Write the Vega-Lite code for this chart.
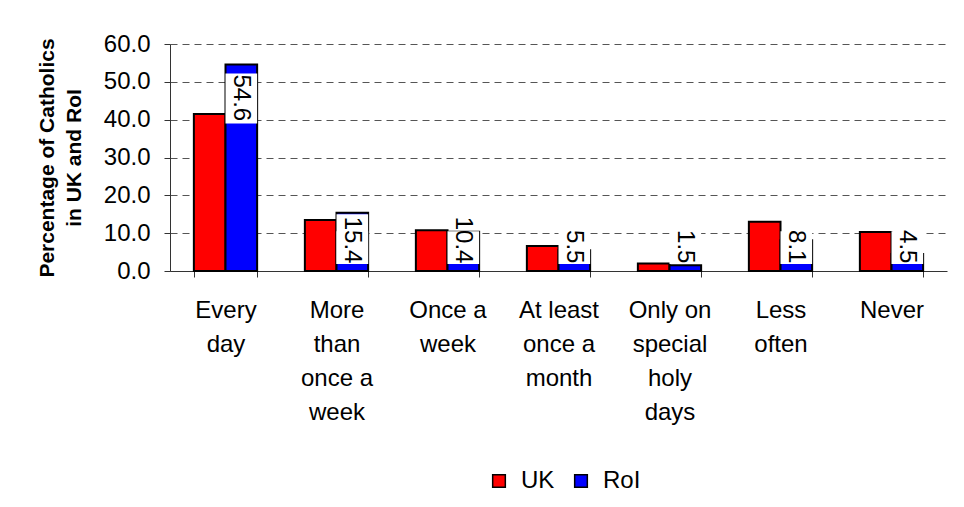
{
  "$schema": "https://vega.github.io/schema/vega-lite/v6.json",
  "width": 777,
  "height": 227,
  "autosize": {"type": "none"},
  "padding": {"left": 170, "top": 44, "right": 17, "bottom": 236},
  "background": "white",
  "config": {"font": "Liberation Sans", "view": {"stroke": null}},
  "data": {
    "values": [
      {"category": "Every day", "series": "UK", "value": 41.5},
      {"category": "Every day", "series": "RoI", "value": 54.6},
      {"category": "More than once a week", "series": "UK", "value": 13.5},
      {"category": "More than once a week", "series": "RoI", "value": 15.4},
      {"category": "Once a week", "series": "UK", "value": 10.8},
      {"category": "Once a week", "series": "RoI", "value": 10.4},
      {"category": "At least once a month", "series": "UK", "value": 6.6},
      {"category": "At least once a month", "series": "RoI", "value": 5.5},
      {"category": "Only on special holy days", "series": "UK", "value": 2.0},
      {"category": "Only on special holy days", "series": "RoI", "value": 1.5},
      {"category": "Less often", "series": "UK", "value": 13.0},
      {"category": "Less often", "series": "RoI", "value": 8.1},
      {"category": "Never", "series": "UK", "value": 10.3},
      {"category": "Never", "series": "RoI", "value": 4.5}
    ]
  },
  "layer": [
    {
      "mark": {"type": "bar", "stroke": "black", "strokeWidth": 2},
      "encoding": {
        "x": {
          "field": "category",
          "type": "nominal",
          "scale": {
            "domain": ["Every day", "More than once a week", "Once a week", "At least once a month", "Only on special holy days", "Less often", "Never"],
            "paddingInner": 0.43,
            "paddingOuter": 0.215
          },
          "axis": {
            "title": null,
            "labelAngle": 0,
            "labelFontSize": 24,
            "labelLineHeight": 34,
            "labelPadding": 21,
            "labelColor": "black",
            "labelBaseline": "top",
            "labelLimit": 200,
            "tickBand": "extent",
            "tickSize": 6,
            "tickColor": "#333",
            "domainColor": "#333",
            "grid": false,
            "labelExpr": "{'Every day':['Every','day'],'More than once a week':['More','than','once a','week'],'Once a week':['Once a','week'],'At least once a month':['At least','once a','month'],'Only on special holy days':['Only on','special','holy','days'],'Less often':['Less','often'],'Never':['Never']}[datum.value]"
          }
        },
        "xOffset": {"field": "series", "type": "nominal", "scale": {"domain": ["UK", "RoI"]}},
        "y": {
          "field": "value",
          "type": "quantitative",
          "scale": {"domain": [0, 60]},
          "axis": {
            "title": ["Percentage of Catholics", "in UK and RoI"],
            "titleFontSize": 21,
            "titleFontWeight": "bold",
            "titleLineHeight": 27,
            "titlePadding": 19,
            "titleColor": "black",
            "values": [0, 10, 20, 30, 40, 50, 60],
            "tickCount": 7,
            "format": ".1f",
            "labelOverlap": false,
            "labelFontSize": 24,
            "labelColor": "black",
            "labelPadding": 14,
            "tickSize": 6,
            "tickColor": "#333",
            "domainColor": "#333",
            "grid": true,
            "gridColor": "#555",
            "gridDash": [7, 5],
            "gridWidth": 1
          }
        },
        "color": {
          "field": "series",
          "type": "nominal",
          "scale": {"domain": ["UK", "RoI"], "range": ["#FF0000", "#0000FF"]},
          "legend": {
            "title": null,
            "orient": "none",
            "legendX": 317,
            "legendY": 425,
            "direction": "horizontal",
            "symbolType": "square",
            "symbolSize": 160,
            "symbolStrokeColor": "black",
            "symbolStrokeWidth": 1.5,
            "labelFontSize": 24,
            "labelColor": "black",
            "labelOffset": 10,
            "columnPadding": 14
          }
        }
      }
    },
    {
      "transform": [{"filter": "datum.series == 'RoI' && datum.value > 30"}],
      "mark": {"type": "bar", "color": "white", "yOffset": 9, "y2Offset": 59},
      "encoding": {
        "x": {"field": "category", "type": "nominal"},
        "xOffset": {"field": "series", "type": "nominal"},
        "y": {"field": "value", "type": "quantitative"},
        "y2": {"field": "value"}
      }
    },
    {
      "transform": [{"filter": "datum.series == 'RoI' && datum.value <= 30"}],
      "mark": {"type": "bar", "color": "white"},
      "encoding": {
        "x": {"field": "category", "type": "nominal"},
        "xOffset": {"field": "series", "type": "nominal"},
        "y": {"datum": 10.5, "type": "quantitative"},
        "y2": {"datum": 1.85}
      }
    },
    {
      "transform": [{"filter": "datum.series == 'RoI' && datum.value > 10.5 && datum.value <= 30"}],
      "mark": {"type": "bar", "color": "white", "yOffset": 1.5},
      "encoding": {
        "x": {"field": "category", "type": "nominal"},
        "xOffset": {"field": "series", "type": "nominal"},
        "y": {"field": "value", "type": "quantitative"},
        "y2": {"datum": 1.85}
      }
    },
    {
      "transform": [{"filter": "datum.series == 'RoI' && datum.value > 30"}],
      "mark": {"type": "text", "angle": 90, "align": "left", "baseline": "middle", "dx": 10, "fontSize": 24, "color": "black"},
      "encoding": {
        "x": {"field": "category", "type": "nominal"},
        "xOffset": {"field": "series", "type": "nominal"},
        "y": {"field": "value", "type": "quantitative"},
        "text": {"field": "value", "type": "quantitative", "format": ".1f"}
      }
    },
    {
      "transform": [{"filter": "datum.series == 'RoI' && datum.value <= 30"}],
      "mark": {"type": "text", "angle": 90, "align": "right", "baseline": "middle", "fontSize": 24, "color": "black"},
      "encoding": {
        "x": {"field": "category", "type": "nominal"},
        "xOffset": {"field": "series", "type": "nominal"},
        "y": {"datum": 2, "type": "quantitative"},
        "text": {"field": "value", "type": "quantitative", "format": ".1f"}
      }
    }
  ]
}
